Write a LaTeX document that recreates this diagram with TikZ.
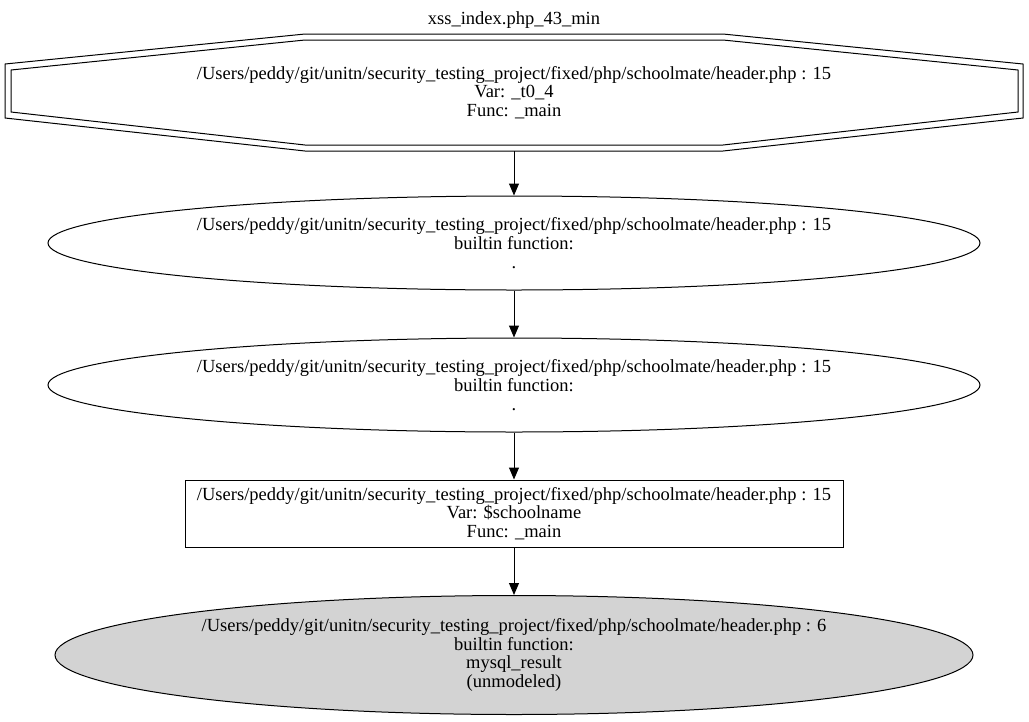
\documentclass[tikz,border=0pt]{standalone}
\usepackage{fontspec}
\setmainfont{Liberation Serif}
\usetikzlibrary{shapes.geometric,arrows.meta}
\definecolor{sinkgray}{HTML}{D3D3D3}
\tikzset{
    lbl/.style={align=center,font=\fontsize{18.5}{18.7}\selectfont},
    blob/.style={lbl,ellipse,draw,line width=1pt,inner sep=0pt,minimum width=932pt,minimum height=94pt},
    edge/.style={-{Triangle[length=12pt,width=10pt]},line width=1pt}
}
\begin{document}
\begin{tikzpicture}[x=1pt,y=-1pt]
    \useasboundingbox (0,0) rectangle (1029,721);
    \node[lbl] (title) at (514,20) {xss\_index.php\_43\_min};

    \node[lbl,inner sep=0pt,minimum width=1018pt,minimum height=117pt] (src) at (514,92.5)
        {/Users/peddy/git/unitn/security\_testing\_project/fixed/php/schoolmate/header.php : 15\\Var: \_t0\_4\\Func: \_main};
    \draw[line width=1pt] (305,34) -- (723,34) -- (1023,64) -- (1023,118) -- (723,151) -- (305,151) -- (5,118) -- (5,64) -- cycle;
    \draw[line width=1pt] (305,40) -- (723,40) -- (1018,70) -- (1018,112) -- (723,145) -- (305,145) -- (11,112) -- (11,70) -- cycle;

    \node[blob] (dot1) at (514,243)
        {/Users/peddy/git/unitn/security\_testing\_project/fixed/php/schoolmate/header.php : 15\\builtin function:\\.};
    \node[blob] (dot2) at (514,385)
        {/Users/peddy/git/unitn/security\_testing\_project/fixed/php/schoolmate/header.php : 15\\builtin function:\\.};
    \node[lbl,draw,line width=1pt,inner sep=0pt,minimum width=658pt,minimum height=67pt] (var) at (514,513.5)
        {/Users/peddy/git/unitn/security\_testing\_project/fixed/php/schoolmate/header.php : 15\\Var: \$schoolname\\Func: \_main};
    \node[blob,fill=sinkgray,minimum width=918pt,minimum height=119pt] (sink) at (514,655)
        {/Users/peddy/git/unitn/security\_testing\_project/fixed/php/schoolmate/header.php : 6\\builtin function:\\mysql\_result\\(unmodeled)};

    \draw[edge] (src) -- (dot1);
    \draw[edge] (dot1) -- (dot2);
    \draw[edge] (dot2) -- (var);
    \draw[edge] (var) -- (sink);
\end{tikzpicture}
\end{document}
